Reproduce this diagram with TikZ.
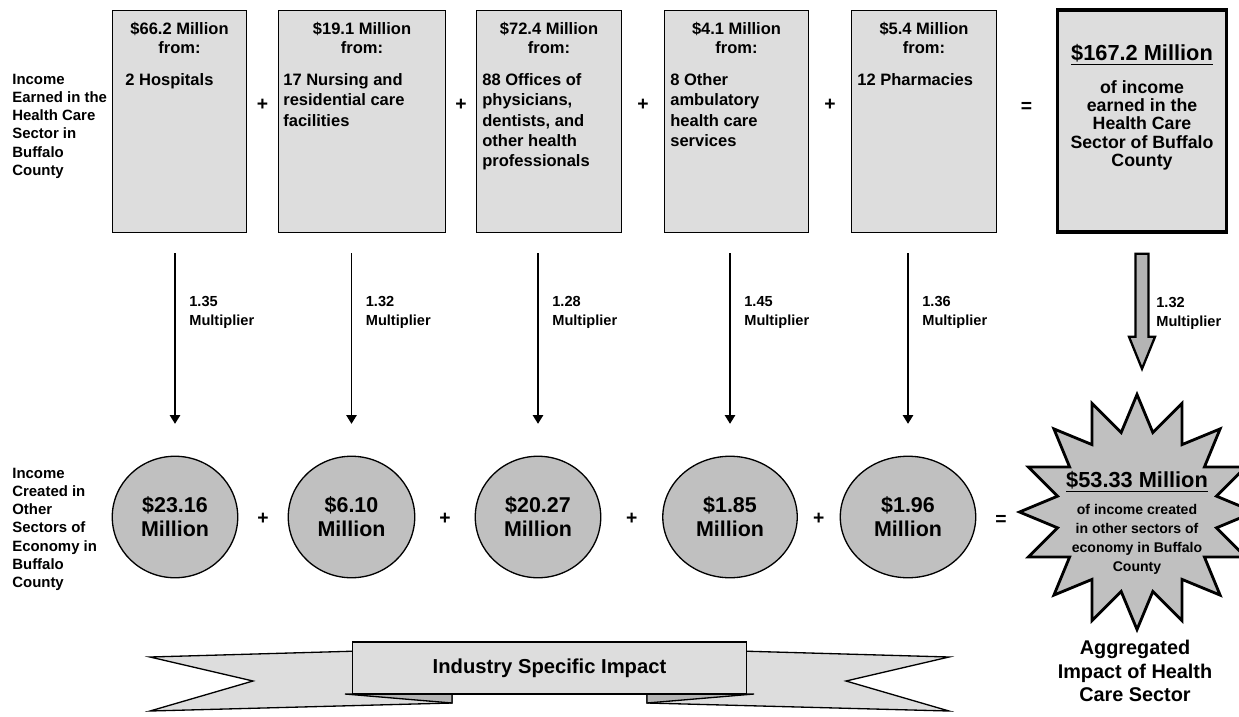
\documentclass[tikz,border=0pt]{standalone}
\usepackage{fontspec}
\setmainfont{Liberation Sans}
\usetikzlibrary{shapes.geometric,arrows.meta,calc}
\definecolor{boxgray}{HTML}{DDDDDD}
\definecolor{ballgray}{HTML}{C0C0C0}
\definecolor{foldgray}{HTML}{B4B4B4}
\def\px{0.5669pt}
\tikzset{
hbox/.style={draw, fill=boxgray, line width=0.75pt, minimum height=223*\px, inner sep=0pt},
htop/.style={inner sep=0pt, align=center, anchor=north, font=\fontsize{9.4}{10.8}\selectfont\bfseries},
hbody/.style={inner sep=0pt, align=left, anchor=north west, font=\fontsize{9.4}{11.6}\selectfont\bfseries},
side/.style={inner sep=0pt, align=left, anchor=north west, font=\fontsize{8.5}{10.3}\selectfont\bfseries},
mult/.style={inner sep=0pt, align=left, anchor=north west, font=\fontsize{8.3}{10.9}\selectfont\bfseries},
ball/.style={ellipse, draw, fill=ballgray, line width=0.75pt, minimum height=122*\px, inner sep=0pt, align=center, font=\fontsize{12.2}{13.6}\selectfont\bfseries},
op/.style={inner sep=0pt, font=\fontsize{11}{11}\selectfont\bfseries},
arr/.style={-{Triangle[width=6pt,length=5pt]}, line width=0.7pt, shorten <=11.3pt, shorten >=18.1pt},
bigarrow/.style={fill=foldgray, line width=1.3pt, line join=miter},
ttitle/.style={inner sep=0pt, anchor=north, font=\fontsize{12.4}{14}\selectfont\bfseries},
tbody/.style={inner sep=0pt, align=center, anchor=north, font=\fontsize{10.1}{10.4}\selectfont\bfseries},
sbody/.style={inner sep=0pt, align=center, anchor=north, font=\fontsize{8}{10.8}\selectfont\bfseries},
agg/.style={inner sep=0pt, align=center, font=\fontsize{11.3}{13.3}\selectfont\bfseries},
banner/.style={draw, fill=boxgray, line width=0.75pt, minimum width=395*\px, minimum height=52*\px, inner sep=0pt, font=\fontsize{11.5}{12}\selectfont\bfseries},
tail/.style={draw, fill=boxgray, line width=0.75pt, line join=miter},
fold/.style={draw, fill=foldgray, line width=0.75pt}
}
\begin{document}
\begin{tikzpicture}[x=0.02cm,y=-0.02cm]
\useasboundingbox (0,0) rectangle (1239,716);
\def\hb#1#2#3#4#5#6{
\node[hbox, minimum width=#3*\px] (#1) at (#2+#3/2,121.5) {};
\node[htop] (#1a) at (#2+#3/2,22) {#5\\from:};
\node[hbody] (#1b) at (#2+#4,73) {#6};
}
\hb{b1}{112}{135}{13}{\$66.2 Million}{2 Hospitals}
\hb{b2}{278}{168}{5}{\$19.1 Million}{17 Nursing and\\residential care\\facilities}
\hb{b3}{476}{146}{6}{\$72.4 Million}{88 Offices of\\physicians,\\dentists, and\\other health\\professionals}
\hb{b4}{664}{145}{6}{\$4.1 Million}{8 Other\\ambulatory\\health care\\services}
\hb{b5}{851}{146}{6}{\$5.4 Million}{12 Pharmacies}
\node[hbox, line width=2pt, minimum width=170*\px] (tot) at (1142,121) {};
\node[ttitle] (tota) at (1142,44) {\underline{\$167.2 Million}};
\node[tbody] (totb) at (1142,80) {of income\\earned in the\\Health Care\\Sector of Buffalo\\County};
\node[side] (lt) at (12,74) {Income\\Earned in the\\Health Care\\Sector in\\Buffalo\\County};
\node[side] (lb) at (12,468) {Income\\Created in\\Other\\Sectors of\\Economy in\\Buffalo\\County};
\foreach \n/\x/\w/\v in {c1/175/126/23.16,c2/351.5/127/6.10,c3/538/126/20.27,c4/730/135/1.85,c5/908/136/1.96}
\node[ball, minimum width=\w*\px] (\n) at (\x,517) {\$\v\\Million};
\foreach \a/\b in {b1/b2,b2/b3,b3/b4,b4/b5}
\node[op] (p\a) at ($(\a.east)!0.5!(\b.west)+(0,-17)$) {+};
\node[op] (eqt) at ($(b5.east)!0.5!(tot.west)+(0,-14)$) {=};
\foreach \a/\b in {c1/c2,c2/c3,c3/c4,c4/c5}
\node[op] (p\a) at ($(\a.east)!0.5!(\b.west)+(0,2)$) {+};
\node[star, star points=16, star point ratio=1.45, draw, fill=ballgray, line width=1.6pt, minimum size=236*\px, inner sep=0pt] (sp) at (1137,512) {};
\node[op] (eqb) at (1001,520) {=};
\node[ttitle] (sta) at (1137,471) {\underline{\$53.33 Million}};
\node[sbody] (stb) at (1137,504) {of income created\\in other sectors of\\economy in Buffalo\\County};
\foreach \b/\c/\m in {b1/c1/1.35,b2/c2/1.32,b3/c3/1.28,b4/c4/1.45,b5/c5/1.36}{
\draw[arr] (\b.south -| \c.north) -- (\c.north);
\node[mult] (m\c) at ($(\b.south -| \c.north)+(14,63)$) {\m\\Multiplier};
}
\draw[bigarrow] ($(tot.south)+(-6.5,20)$) -- ++(13,0) -- ++(0,83) -- ++(6.5,0) -- ++(-13,32) -- ++(-13,-32) -- ++(6.5,0) -- cycle;
\node[mult] (mt) at ($(tot.south)+(14,63)$) {1.32\\Multiplier};
\node[agg] (agg) at (1135,671) {Aggregated\\Impact of Health\\Care Sector};
\draw[tail] (360,651) -- (150,657) -- (253,681) -- (150,711) -- (452,703) -- (452,680) -- cycle;
\draw[tail] (739,651) -- (949,657) -- (846,681) -- (949,711) -- (647,703) -- (647,680) -- cycle;
\draw[fold] (345,694) -- (452,694) -- (452,703) -- cycle;
\draw[fold] (754,694) -- (647,694) -- (647,703) -- cycle;
\node[banner] (ban) at (549.5,668) {Industry Specific Impact};
\end{tikzpicture}
\end{document}
